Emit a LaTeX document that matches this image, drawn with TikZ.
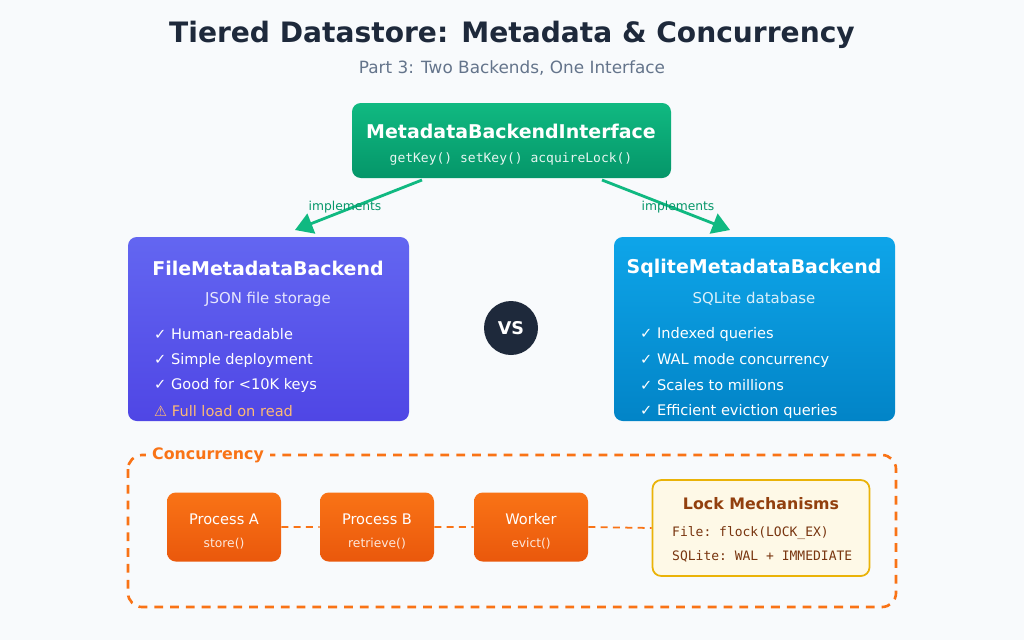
\documentclass[tikz,border=0pt]{standalone}
\usepackage{fontspec}
\setmainfont{DejaVu Sans}
\setmonofont{DejaVu Sans Mono}
\usetikzlibrary{arrows.meta,positioning}
\definecolor{bg_gray}{HTML}{F8FAFC}
\definecolor{title_dark}{HTML}{1E293B}
\definecolor{sub_gray}{HTML}{64748B}
\definecolor{iface_top}{HTML}{10B981}
\definecolor{iface_bot}{HTML}{059669}
\definecolor{file_top}{HTML}{6366F1}
\definecolor{file_bot}{HTML}{4F46E5}
\definecolor{sql_top}{HTML}{0EA5E9}
\definecolor{sql_bot}{HTML}{0284C7}
\definecolor{conc_orange}{HTML}{F97316}
\definecolor{proc_bot}{HTML}{EA580C}
\definecolor{lock_fill}{HTML}{FEF9E7}
\definecolor{lock_edge}{HTML}{EAB308}
\definecolor{lock_title}{HTML}{92400E}
\definecolor{lock_text}{HTML}{78350F}
\definecolor{warn_peach}{HTML}{FDBA74}

\begin{document}
\begin{tikzpicture}[x=0.02cm,y=-0.02cm]
    \tikzset{
      box/.style={rounded corners=5pt, draw=none},
      head/.style={text=white, font=\fontsize{10.8}{12}\selectfont\bfseries},
      info/.style={text=white, opacity=0.85, font=\fontsize{8.5}{10}\selectfont},
      item/.style={text=white, anchor=west, font=\fontsize{8.3}{10}\selectfont},
      proc/.style={box, top color=conc_orange, bottom color=proc_bot, minimum width=114*0.02cm, minimum height=69*0.02cm},
      impl/.style={-{Triangle[length=10pt,width=12pt]}, line width=1.6pt, draw=iface_top},
      mono/.style={font=\ttfamily\fontsize{7.4}{9}\selectfont}
    }
    \fill[bg_gray] (0,0) rectangle (1024,640);

    % title
    \node[text=title_dark, font=\fontsize{16}{18}\selectfont\bfseries] (title) at (512,35) {Tiered Datastore: Metadata \& Concurrency};
    \node[text=sub_gray, font=\fontsize{9.6}{11}\selectfont] (subtitle) at (512,68) {Part 3: Two Backends, One Interface};

    % interface
    \path[box, top color=iface_top, bottom color=iface_bot] (352,103) rectangle (671,178);
    \node[head] (iface) at (511,131) {MetadataBackendInterface};
    \node[mono, text=white, opacity=0.9] (ifacefn) at (511,159) {getKey() setKey() acquireLock()};
    \coordinate (ifl) at (422,180);
    \coordinate (ifr) at (602,180);
    \coordinate (filetop) at (295,230);
    \coordinate (sqltop) at (730,230);
    \draw[impl] (ifl) -- (filetop);
    \draw[impl] (ifr) -- (sqltop);
    \node[text=iface_bot, font=\fontsize{7}{8}\selectfont] (impl1) at (345,207) {implements};
    \node[text=iface_bot, font=\fontsize{7}{8}\selectfont] (impl2) at (678,207) {implements};

    % file backend
    \path[box, top color=file_top, bottom color=file_bot] (128,237) rectangle (409,421);
    \node[head] (file) at (268,268) {FileMetadataBackend};
    \node[info] (filesub) at (268,299) {JSON file storage};
    \node[item] (f1) at (148,334) {✓ Human-readable};
    \node[item] (f2) at (148,360) {✓ Simple deployment};
    \node[item] (f3) at (148,385) {✓ Good for <10K keys};
    \node[item, text=warn_peach] (f4) at (148,411) {⚠ Full load on read};

    % vs
    \node[circle, fill=title_dark, minimum size=54*0.02cm, text=white, font=\fontsize{10}{12}\selectfont\bfseries] (vs) at (511,328) {VS};

    % sqlite backend
    \path[box, top color=sql_top, bottom color=sql_bot] (614,237) rectangle (895,421);
    \node[head] (sql) at (754,268) {SqliteMetadataBackend};
    \node[info] (sqlsub) at (754,299) {SQLite database};
    \node[item] (s1) at (634,334) {✓ Indexed queries};
    \node[item] (s2) at (634,360) {✓ WAL mode concurrency};
    \node[item] (s3) at (634,385) {✓ Scales to millions};
    \node[item] (s4) at (634,411) {✓ Efficient eviction queries};

    % concurrency
    \draw[conc_orange, line width=1.5pt, dash pattern=on 5pt off 4pt, rounded corners=8pt] (128,455) rectangle (896,607);
    \node[fill=bg_gray, text=conc_orange, font=\fontsize{9}{11}\selectfont\bfseries] (conc) at (208,455) {Concurrency};

    \node[box, fill=lock_fill, draw=lock_edge, line width=1pt, minimum width=217*0.02cm, minimum height=96*0.02cm] (lock) at (761,528) {};
    \node[proc] (pa) at (224,527) {};
    \node[proc] (pb) at (377,527) {};
    \node[proc] (pw) at (531,527) {};
    \draw[conc_orange, line width=1pt, dash pattern=on 4pt off 3pt] (pa.east) -- (pb.west) (pb.east) -- (pw.west) (pw.east) -- (lock.west);
    \foreach \p/\t/\f in {pa/Process A/store(), pb/Process B/retrieve(), pw/Worker/evict()} {
      \node[text=white, font=\fontsize{8.3}{10}\selectfont] at ([yshift=7.5*0.02cm]\p.center) {\t};
      \node[text=white, opacity=0.85, font=\fontsize{7}{8}\selectfont] at ([yshift=-17*0.02cm]\p.center) {\f};
    }

    \node[text=lock_title, font=\fontsize{9}{11}\selectfont\bfseries] (locktitle) at (761,504) {Lock Mechanisms};
    \node[mono, text=lock_text, anchor=west] (l1) at (666,533) {File: flock(LOCK\_EX)};
    \node[mono, text=lock_text, anchor=west] (l2) at (666,556) {SQLite: WAL + IMMEDIATE};
\end{tikzpicture}
\end{document}
